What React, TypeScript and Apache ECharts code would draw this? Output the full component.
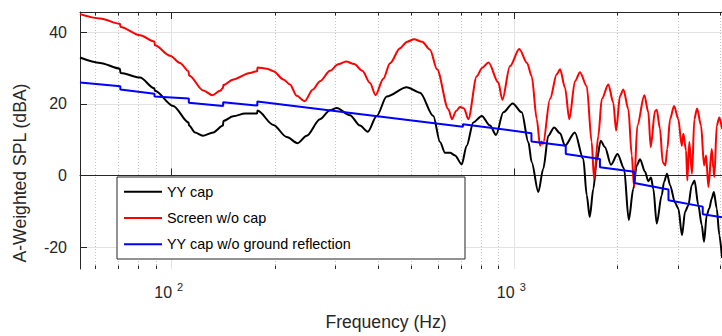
import { useEffect, useRef } from 'react';
import * as echarts from 'echarts';

// ---- data ----
const blackFreq = [
  54, 61.8, 70.6, 70.9, 80.8, 89.0, 89.3, 101, 112.0, 112.4,
  117, 123.2, 132.2, 141.2, 141.5, 151.3, 163.7, 177.6, 178.0, 198,
  216.7, 233.2, 247.8, 271, 289.7, 303.1, 331.5, 354.5, 373.4, 396.7,
  424.2, 485.2, 530.5, 580.3, 607, 627.9, 649.2, 671.3, 702.3, 726.1,
  759.2, 803.4, 849.3, 884.4, 928.8, 989.2, 1051, 1099, 1124, 1175,
  1215, 1257, 1306, 1360, 1406, 1502, 1590, 1627, 1660, 1701,
  1740, 1787, 1839, 1915, 2001, 2090, 2158, 2225, 2277, 2328,
  2407, 2461, 2506, 2545, 2604, 2693, 2735, 2791, 2848, 2945,
  3011, 3087, 3150, 3220, 3295, 3357, 3444, 3524, 3579, 3644,
  3708, 3769, 3823, 3898, 3966, 4038,
];
const blackDb = [
  32.9, 31.4, 29.8, 28.6, 27.3, 24.3, 23.6, 19.4, 14.8, 13.9,
  12.0, 11.1, 12.0, 13.9, 15.2, 16.5, 17.3, 17.3, 18.1, 14.1,
  10.7, 9.0, 11.1, 15.7, 18.2, 18.8, 16.8, 13.9, 12.2, 16.6,
  22.0, 24.6, 23.1, 16.6, 9.3, 6.3, 6.3, 5.6, 3.1, 8.3,
  14.8, 16.6, 13.9, 11.3, 17.6, 20.1, 17.6, 9.3, 3.7, -4.6,
  1.9, 11.1, 13.4, 11.8, 8.3, 12.0, 4.6, -5.5, -11.6, -3.7,
  4.2, 9.7, 7.9, 3.0, 6.0, 2.0, -12.4, -3.7, 2.8, 4.5,
  1.0, -1.6, -0.6, -3.7, -13.4, -5.5, -1.8, 0.5, -2.7, -7.6,
  -9.2, -16.7, -10.1, -8.4, -2.7, -1.4, -8.3, -13.8, -18.5, -11.1,
  -9.2, -6.4, -4.6, -9.2, -16.6, -23.0,
];

const redFreq = [
  54, 61.8, 70.6, 70.9, 80.8, 89.0, 89.3, 98.9, 105.7, 112.0,
  112.4, 123.7, 131.5, 138.4, 141.2, 141.5, 151.3, 169.2, 177.6, 178.0,
  189.4, 198, 211.7, 221.4, 231.7, 244.2, 258.4, 271.0, 289.7, 306.0,
  322.8, 340.9, 360.0, 379.2, 393.5, 414.6, 433.8, 463.9, 486.6, 509.6,
  538.0, 567.5, 594.9,
  641.9, 658.1, 676, 694.4, 713.3, 734.1, 776.9, 805.1, 841, 898.2,
  922.6, 971.4, 1034, 1089, 1124, 1163, 1189, 1201, 1213, 1271,
  1330, 1360, 1406, 1447, 1504, 1555, 1627, 1682, 1709, 1759,
  1800, 1881, 1945, 1982, 2035, 2081, 2152, 2202, 2236, 2286,
  2396, 2461, 2501, 2574, 2604, 2662, 2711, 2759, 2796, 2848,
  2926, 3011, 3081, 3114, 3171, 3199, 3241, 3301, 3353, 3415,
  3508, 3579, 3628, 3685, 3769, 3810, 3836, 3898, 3966, 4038,
];
const redDb = [
  45.0, 43.8, 42.3, 41.4, 39.1, 37.4, 36.3, 33.4, 31.4, 29.1,
  27.9, 23.7, 22.4, 23.6, 24.4, 25.2, 26.8, 28.6, 29.1, 30.1,
  29.8, 29.1, 26.8, 25.4, 22.2, 20.7, 24.0, 26.3, 29.2, 31.0,
  31.8, 31.1, 29.2, 25.8, 22.4, 27.0, 31.3, 35.5, 37.3, 38.0,
  37.3, 35.1, 29.6,
  18.5, 15.7, 18.0, 19.1, 18.7, 15.7, 27.7, 30.0, 31.5, 25.9,
  21.1, 30.5, 35.3, 31.4, 27.7, 15.7, 8.3, 9.5, 8.8, 21.3,
  28.2, 29.6, 24.5, 15.7, 26.3, 28.8, 24.9, 9.3, -0.9, 11.1,
  21.3, 25.4, 20.3, 12.5, 22.2, 24.0, 18.5, 5.6, -3.2, 13.9,
  22.4, 17.6, 7.9, 18.0, 18.3, 13.0, 3.7, 2.8, 7.4, 15.7,
  19.4, 15.7, 8.3, 11.6, 7.0, -1.4, 9.3, 0.5, 15.7, 18.7,
  13.9, 2.8, 5.6, -3.2, 7.4, 1.9, -0.4, 13.9, 16.2, 13.0,
];

const blueFreq = [
  54, 70.8, 70.8, 89.1, 89.1, 112.2, 112.2, 141.3, 141.3, 177.8,
  177.8, 707.9, 707.9, 1122, 1122, 1413, 1413, 1778, 1778, 2239,
  2239, 2818, 2818, 3548, 3548, 4038,
];
const blueDb = [
  25.9, 24.9, 24.0, 22.8, 22.0, 21.5, 20.3, 19.4, 20.4, 19.5,
  20.6, 13.6, 14.3, 11.8, 9.5, 8.3, 6.0, 4.6, 2.3, 1.0,
  -2.1, -3.9, -6.9, -8.7, -10.8, -11.7,
];

const seriesNames = ['YY cap', 'Screen w/o cap', 'YY cap w/o ground reflection'];
const xMin = 54;
const xMax = 4038;
const yMin = -26.1;
const yMax = 45.6;
const xMajorTicks = [100, 1000];
const xMinorTicks = [60, 70, 80, 90, 200, 300, 400, 500, 600, 700, 800, 900, 2000, 3000, 4000];
const yTicks = [-20, 0, 20, 40];

const zip = (f: number[], d: number[]) => f.map((x, i) => [x, d[i]]);

export default function App() {
  const ref = useRef<HTMLDivElement>(null);
  useEffect(() => {
    if (!ref.current) return;
    const chart = echarts.init(ref.current, null, { renderer: 'svg' });
    const axisColor = '#262626';
    const font = '"Liberation Sans", Arial, Helvetica, sans-serif';
    const axisLine = { show: true, lineStyle: { color: axisColor, width: 1 } };
    const baseX = { type: 'log', logBase: 10, min: xMin, max: xMax, gridIndex: 0, minorTick: { show: false }, minorSplitLine: { show: false } };
    const majorTick = (len: number) => ({ show: true, inside: true, length: len, customValues: xMajorTicks, lineStyle: { color: axisColor, width: 1 } });
    const minorTick = (len: number) => ({ show: true, inside: true, length: len, customValues: xMinorTicks, lineStyle: { color: axisColor, width: 1 } });

    chart.setOption({
      animation: false,
      backgroundColor: '#ffffff',
      textStyle: { fontFamily: font },
      grid: { left: 80, right: 0, top: 12, bottom: 65, containLabel: false },
      legend: {
        data: seriesNames,
        orient: 'vertical',
        left: 117,
        top: 177,
        icon: 'rect',
        itemWidth: 38,
        itemHeight: 2,
        itemGap: 10.3,
        padding: [6.7, 114, 6.7, 7],
        backgroundColor: '#ffffff',
        borderColor: axisColor,
        borderWidth: 1,
        borderRadius: 0,
        selectedMode: false,
        textStyle: { fontSize: 14.4, color: '#000000', lineHeight: 16, fontFamily: font },
      },
      xAxis: [
        {
          ...baseX,
          position: 'bottom',
          name: 'Frequency (Hz)',
          nameLocation: 'middle',
          nameGap: 44,
          nameTextStyle: { fontSize: 17.6, color: axisColor, fontFamily: font, padding: [0, 30, 0, 0] },
          axisLine,
          axisTick: majorTick(7),
          axisLabel: {
            show: true,
            customValues: xMajorTicks,
            margin: 12,
            formatter: (v: number) => `{b|10}{s|${Math.round(Math.log10(v))}}`,
            rich: {
              b: { fontSize: 16, lineHeight: 22, color: axisColor, fontFamily: font },
              s: { fontSize: 11, lineHeight: 10, verticalAlign: 'top', color: axisColor, fontFamily: font, padding: [0, 6, 0, 5] },
            },
          },
          splitLine: { show: true, lineStyle: { color: '#e3e3e3', width: 1 } },
        },
        {
          ...baseX,
          position: 'bottom',
          axisLine: { show: false },
          axisTick: minorTick(3.5),
          axisLabel: { show: false },
          splitLine: { show: true, lineStyle: { color: '#c4c4c4', width: 1, type: [1, 2] } },
        },
        {
          ...baseX,
          position: 'top',
          axisLine,
          axisTick: majorTick(7),
          axisLabel: { show: false },
          splitLine: { show: false },
        },
        {
          ...baseX,
          position: 'top',
          axisLine: { show: false },
          axisTick: minorTick(3.5),
          axisLabel: { show: false },
          splitLine: { show: false },
        },
      ],
      yAxis: {
        type: 'value',
        min: yMin,
        max: yMax,
        position: 'left',
        name: 'A-Weighted SPL (dBA)',
        nameLocation: 'middle',
        nameGap: 51,
        nameTextStyle: { fontSize: 17.6, color: axisColor, fontFamily: font, padding: [0, 65, 0, 0] },
        axisLine,
        axisTick: { show: true, inside: true, length: 7, customValues: yTicks, lineStyle: { color: axisColor, width: 1 } },
        axisLabel: { show: true, customValues: yTicks, fontSize: 16, color: axisColor, margin: 13, fontFamily: font },
        splitLine: { show: true, lineStyle: { color: '#e3e3e3', width: 1 } },
      },
      series: [
        {
          name: seriesNames[0],
          type: 'line',
          xAxisIndex: 0,
          yAxisIndex: 0,
          data: zip(blackFreq, blackDb),
          symbol: 'none',
          showSymbol: false,
          smooth: 0.3,
          smoothMonotone: 'x',
          lineStyle: { color: '#000000', width: 2 },
          itemStyle: { color: '#000000' },
          z: 3,
        },
        {
          name: seriesNames[1],
          type: 'line',
          xAxisIndex: 0,
          yAxisIndex: 0,
          data: zip(redFreq, redDb),
          symbol: 'none',
          showSymbol: false,
          smooth: 0.3,
          smoothMonotone: 'x',
          lineStyle: { color: '#ff0000', width: 2 },
          itemStyle: { color: '#ff0000' },
          z: 3,
        },
        {
          name: seriesNames[2],
          type: 'line',
          xAxisIndex: 0,
          yAxisIndex: 0,
          data: zip(blueFreq, blueDb),
          symbol: 'none',
          showSymbol: false,
          lineStyle: { color: '#0000ff', width: 2 },
          itemStyle: { color: '#0000ff' },
          z: 3,
        },
      ],
    });
    return () => chart.dispose();
  }, []);
  return (
    <div
      ref={ref}
      style={{ position: 'fixed', left: 0, top: 0, width: 722, height: 336, background: '#ffffff' }}
    />
  );
}
